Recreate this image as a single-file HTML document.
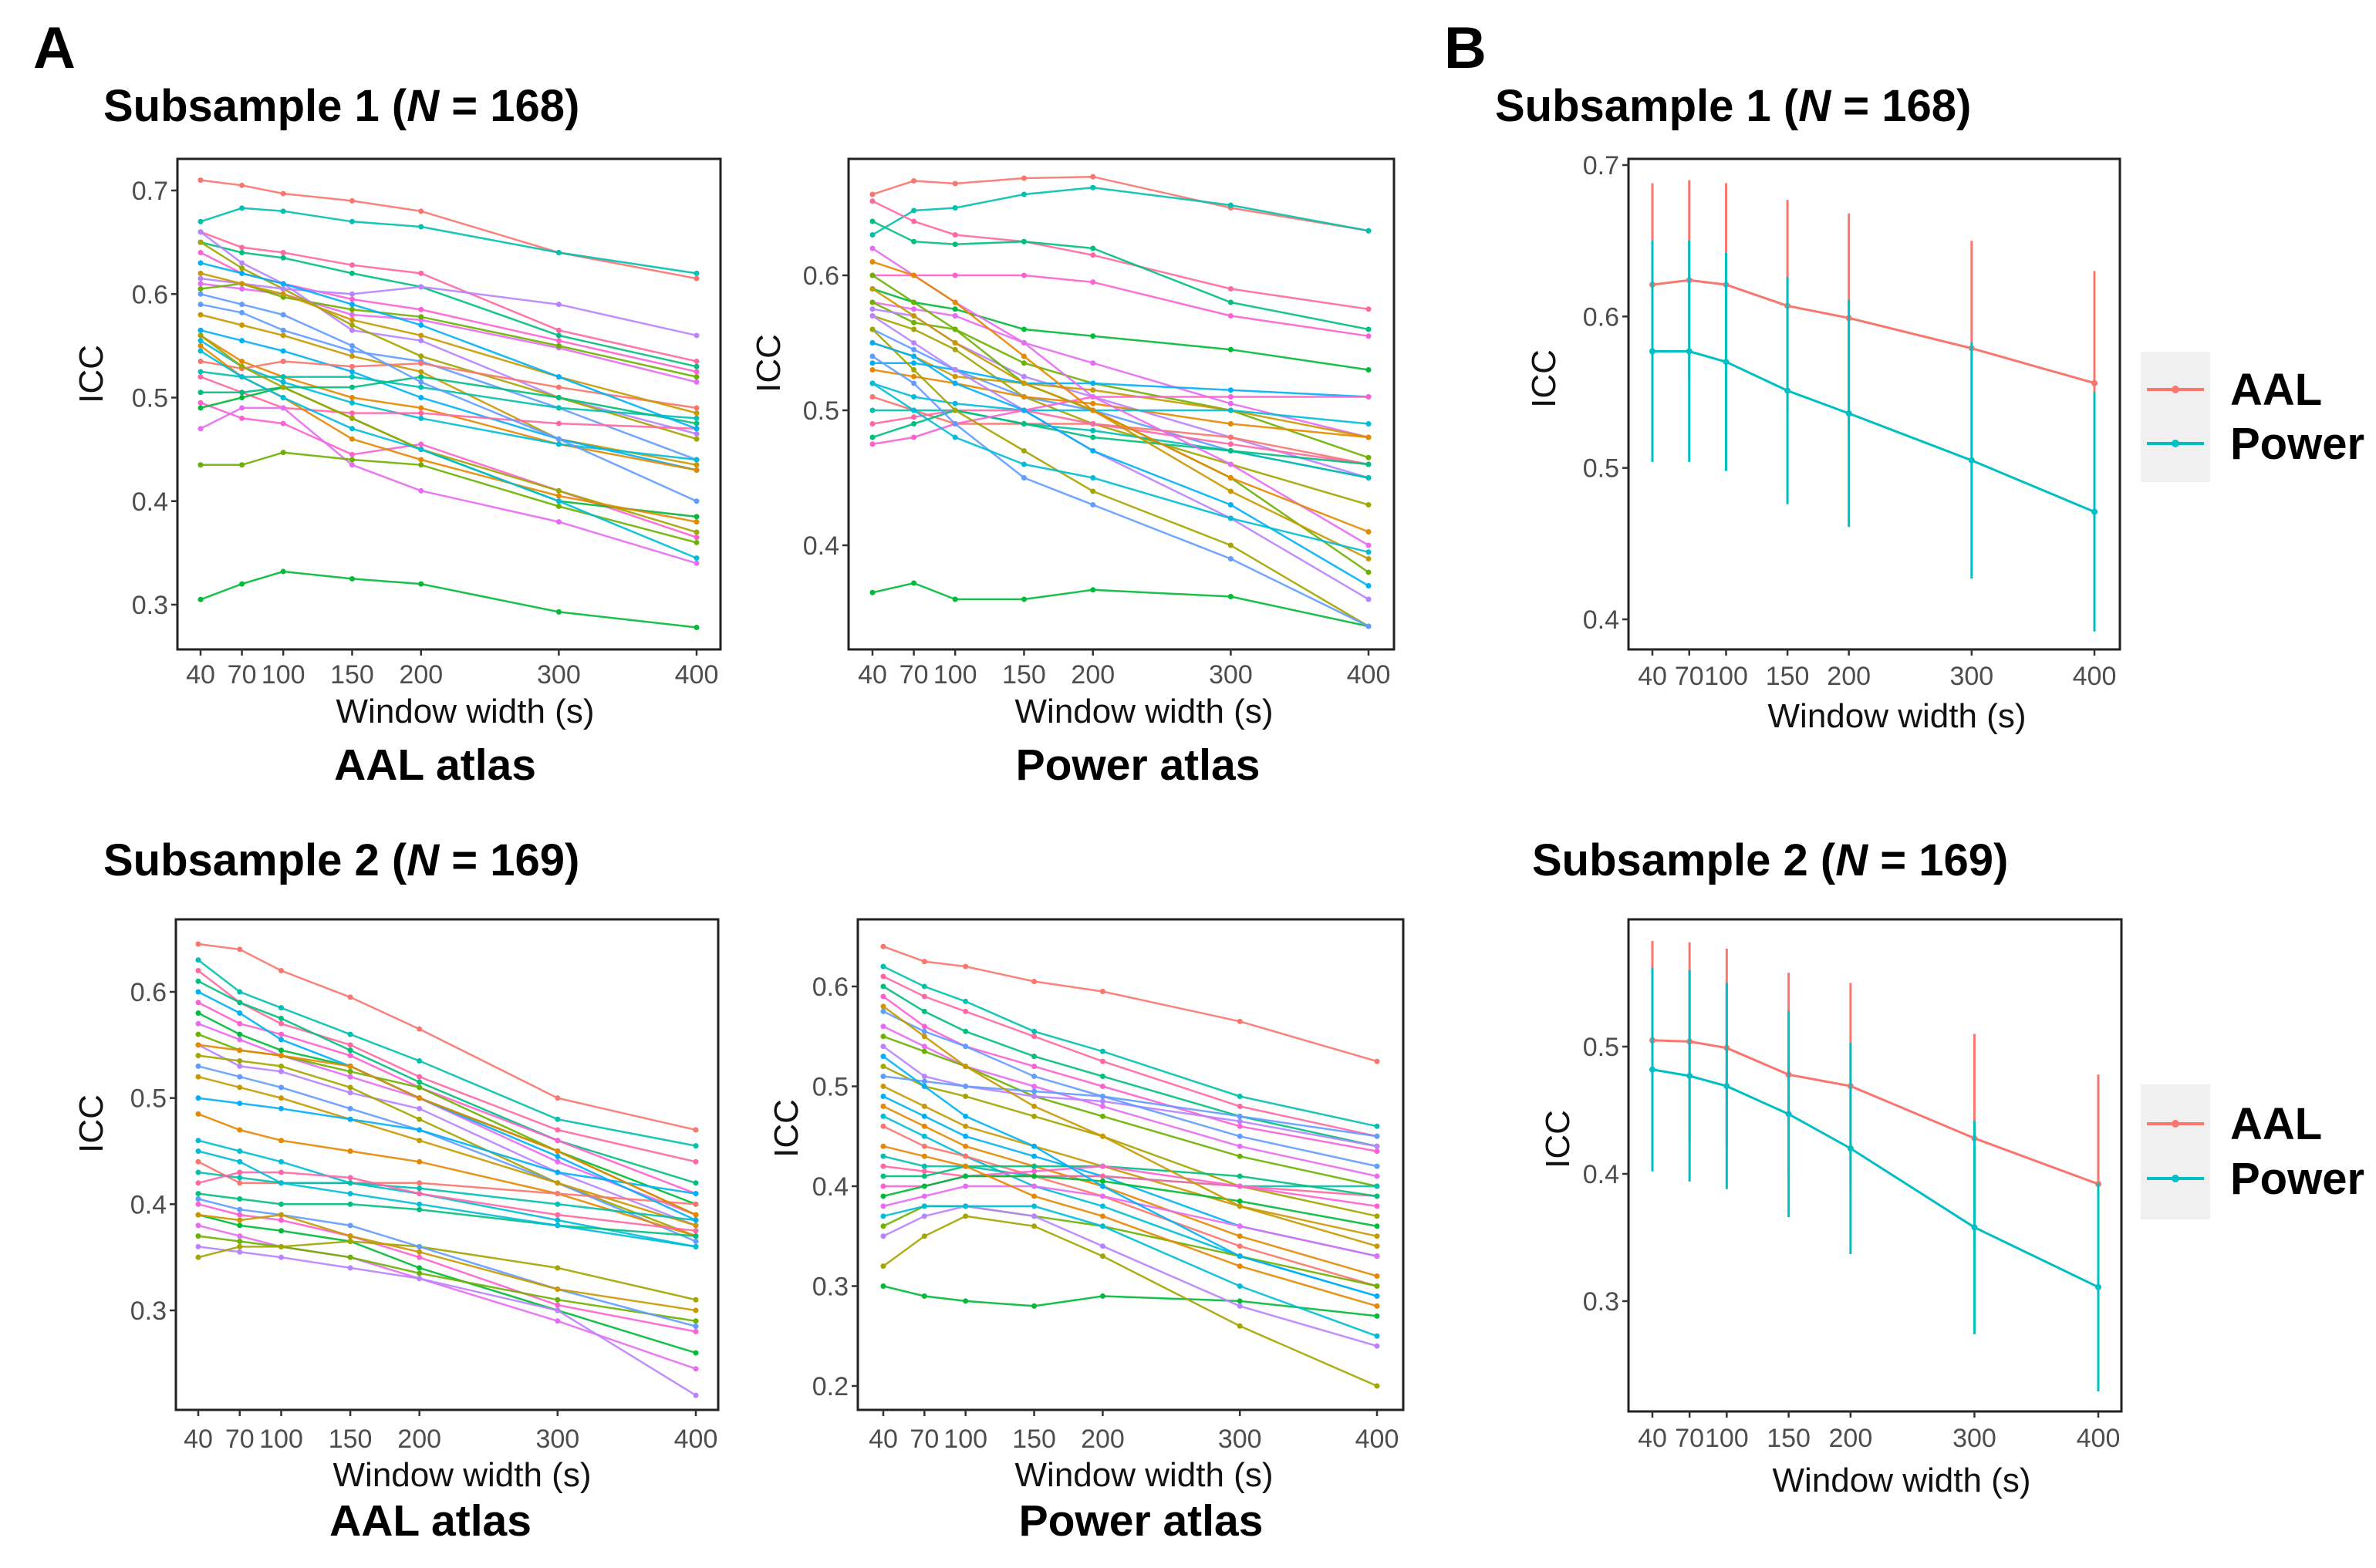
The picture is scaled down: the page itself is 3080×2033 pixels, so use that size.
<!DOCTYPE html>
<html><head><meta charset="utf-8"><style>
body{margin:0;background:#fff;}
svg{display:block;font-family:"Liberation Sans",Arial,sans-serif;}
</style></head><body>
<svg id="fig" width="3080" height="2033" viewBox="0 0 3080 2033" xmlns="http://www.w3.org/2000/svg">
<rect width="3080" height="2033" fill="#fff"/>
<text x="43" y="88" font-size="76" font-weight="bold">A</text>
<text x="1872" y="88" font-size="76" font-weight="bold">B</text>
<text x="134" y="157" font-size="58" font-weight="bold">Subsample 1 (<tspan font-style="italic">N</tspan> = 168)</text>
<text x="134" y="1135" font-size="58" font-weight="bold">Subsample 2 (<tspan font-style="italic">N</tspan> = 169)</text>
<text x="1938" y="157" font-size="58" font-weight="bold">Subsample 1 (<tspan font-style="italic">N</tspan> = 168)</text>
<text x="1986" y="1135" font-size="58" font-weight="bold">Subsample 2 (<tspan font-style="italic">N</tspan> = 169)</text>
<text x="564" y="1011" font-size="57" font-weight="bold" text-anchor="middle">AAL atlas</text>
<text x="1475" y="1011" font-size="57" font-weight="bold" text-anchor="middle">Power atlas</text>
<text x="558" y="1991" font-size="57" font-weight="bold" text-anchor="middle">AAL atlas</text>
<text x="1479" y="1991" font-size="57" font-weight="bold" text-anchor="middle">Power atlas</text>
<g id="plots"></g>
</svg>
<script>
const xCats = [40,70,100,150,200,300,400];
const xTickLabels = ["40","70","100","150","200","300","400"];
const palette = ["#F8766D","#E58700","#C99800","#A3A500","#6BB100","#00BA38","#00BF7D","#00C0AF","#00BCD8","#00B0F6","#619CFF","#B983FF","#E76BF3","#FD61D1","#FF67A4"];

const aalS1 = [
[.71,.705,.697,.69,.68,.64,.615],[.67,.683,.68,.67,.665,.64,.62],[.66,.645,.64,.628,.62,.565,.535],
[.65,.64,.635,.62,.607,.56,.53],[.64,.62,.61,.595,.585,.555,.525],[.305,.32,.332,.325,.32,.293,.278],
[.61,.605,.6,.58,.575,.548,.515],[.605,.61,.597,.585,.578,.55,.52],[.66,.63,.61,.565,.555,.5,.465],
[.65,.625,.605,.57,.54,.5,.46],[.59,.582,.565,.545,.535,.49,.44],[.58,.57,.56,.54,.525,.46,.435],
[.565,.555,.545,.525,.5,.46,.43],[.56,.535,.52,.5,.49,.455,.43],[.555,.53,.515,.495,.48,.455,.44],
[.535,.528,.535,.53,.533,.51,.49],[.525,.52,.52,.52,.51,.49,.48],[.52,.505,.49,.485,.485,.475,.47],
[.505,.505,.51,.51,.52,.5,.475],[.495,.48,.475,.445,.455,.41,.365],[.49,.5,.51,.48,.45,.4,.385],
[.47,.49,.49,.435,.41,.38,.34],[.435,.435,.447,.44,.435,.395,.36],[.615,.61,.605,.6,.607,.59,.56],
[.56,.53,.51,.48,.45,.41,.37],[.6,.59,.58,.55,.515,.46,.4],[.62,.61,.6,.575,.56,.52,.485],
[.63,.62,.61,.59,.57,.52,.47],[.55,.52,.5,.46,.44,.405,.38],[.545,.52,.5,.47,.45,.4,.345]];
const powerS1 = [
[.66,.67,.668,.672,.673,.65,.633],[.63,.648,.65,.66,.665,.652,.633],[.655,.64,.63,.625,.615,.59,.575],
[.64,.625,.623,.625,.62,.58,.56],[.6,.6,.6,.6,.595,.57,.555],[.59,.58,.575,.56,.555,.545,.53],
[.58,.575,.57,.55,.535,.505,.48],[.58,.565,.56,.535,.52,.5,.465],[.575,.57,.55,.525,.51,.48,.45],
[.57,.56,.545,.51,.49,.46,.43],[.56,.545,.53,.51,.5,.47,.45],[.55,.54,.525,.52,.515,.5,.48],
[.535,.535,.53,.52,.52,.515,.51],[.53,.525,.52,.51,.505,.49,.48],[.52,.51,.505,.5,.5,.5,.49],
[.51,.5,.49,.49,.49,.48,.46],[.5,.5,.5,.49,.485,.47,.45],[.49,.495,.5,.5,.49,.475,.46],
[.48,.49,.5,.49,.48,.47,.46],[.475,.48,.49,.5,.51,.51,.51],[.365,.372,.36,.36,.367,.362,.34],
[.62,.6,.58,.55,.51,.46,.4],[.6,.58,.56,.52,.5,.45,.38],[.57,.55,.53,.5,.47,.42,.36],
[.56,.53,.5,.47,.44,.4,.34],[.54,.52,.49,.45,.43,.39,.34],[.59,.57,.55,.52,.5,.44,.39],
[.55,.54,.52,.5,.47,.43,.37],[.61,.6,.58,.54,.5,.45,.41],[.52,.5,.48,.46,.45,.42,.395]];
const aalS2 = [
[.645,.64,.62,.595,.565,.5,.47],[.63,.6,.585,.56,.535,.48,.455],[.62,.59,.57,.55,.52,.47,.44],
[.61,.59,.575,.545,.515,.46,.42],[.59,.57,.56,.54,.51,.46,.41],[.58,.56,.545,.53,.5,.45,.4],
[.57,.555,.54,.52,.5,.44,.39],[.56,.545,.54,.525,.51,.45,.39],[.55,.53,.525,.505,.49,.43,.38],
[.54,.535,.53,.51,.48,.42,.37],[.53,.52,.51,.49,.47,.42,.365],[.52,.51,.5,.48,.46,.42,.38],
[.5,.495,.49,.48,.47,.43,.41],[.485,.47,.46,.45,.44,.41,.37],[.46,.45,.44,.42,.41,.385,.36],
[.44,.42,.42,.42,.42,.41,.4],[.43,.425,.42,.42,.415,.4,.385],[.42,.43,.43,.425,.41,.39,.375],
[.41,.405,.4,.4,.395,.38,.37],[.4,.39,.385,.37,.35,.305,.28],[.39,.38,.375,.365,.34,.3,.26],
[.38,.37,.36,.35,.33,.29,.245],[.37,.365,.36,.35,.335,.31,.29],[.36,.355,.35,.34,.33,.3,.22],
[.35,.36,.36,.365,.36,.34,.31],[.405,.395,.39,.38,.36,.32,.285],[.39,.385,.39,.37,.355,.32,.3],
[.6,.58,.555,.53,.5,.445,.385],[.55,.545,.54,.53,.5,.45,.39],[.45,.44,.42,.41,.4,.38,.36]];
const powerS2 = [
[.64,.625,.62,.605,.595,.565,.525],[.62,.6,.585,.555,.535,.49,.46],[.61,.59,.575,.55,.525,.48,.45],
[.6,.575,.555,.53,.51,.47,.44],[.59,.56,.54,.52,.5,.46,.435],[.3,.29,.285,.28,.29,.285,.27],
[.56,.54,.52,.5,.48,.44,.41],[.55,.535,.52,.49,.47,.43,.4],[.54,.51,.5,.49,.485,.465,.44],
[.52,.5,.49,.47,.45,.4,.37],[.51,.505,.5,.495,.49,.47,.45],[.5,.48,.46,.44,.42,.38,.35],
[.49,.47,.45,.43,.41,.36,.33],[.48,.46,.44,.42,.4,.35,.31],[.47,.45,.43,.4,.38,.33,.29],
[.46,.44,.43,.41,.39,.34,.3],[.43,.42,.42,.41,.41,.4,.4],[.42,.415,.41,.41,.41,.4,.39],
[.41,.41,.42,.42,.42,.41,.39],[.4,.4,.41,.415,.42,.4,.38],[.39,.4,.41,.41,.405,.385,.36],
[.38,.39,.4,.4,.39,.36,.33],[.36,.38,.38,.37,.36,.33,.3],[.35,.37,.38,.37,.34,.28,.24],
[.32,.35,.37,.36,.33,.26,.2],[.575,.555,.54,.51,.49,.45,.42],[.58,.55,.52,.48,.45,.38,.34],
[.53,.5,.47,.44,.4,.33,.29],[.44,.43,.42,.39,.37,.32,.28],[.37,.38,.38,.38,.36,.3,.25]];

const bS1AalMean = [.621,.624,.621,.607,.599,.579,.556];
const bS1AalSd = [.067,.066,.067,.07,.069,.071,.074];
const bS1PowMean = [.577,.577,.57,.551,.536,.505,.471];
const bS1PowSd = [.073,.073,.072,.075,.075,.078,.079];
const bS2AalMean = [.505,.504,.499,.478,.469,.428,.392];
const bS2AalSd = [.078,.078,.078,.08,.081,.082,.086];
const bS2PowMean = [.482,.477,.469,.447,.42,.358,.311];
const bS2PowSd = [.08,.083,.081,.081,.083,.084,.082];

const yTicksA1 = [0.3,0.4,0.5,0.6,0.7];
const yTicksA2 = [0.4,0.5,0.6];
const yTicksA3 = [0.3,0.4,0.5,0.6];
const yTicksA4 = [0.2,0.3,0.4,0.5,0.6];
const yTicksB1 = [0.4,0.5,0.6,0.7];
const yTicksB2 = [0.3,0.4,0.5];

const NS = "http://www.w3.org/2000/svg";
const root = document.getElementById('plots');
function mk(tag, attrs, parent){
  const e = document.createElementNS(NS, tag);
  for (const k in attrs) e.setAttribute(k, attrs[k]);
  parent.appendChild(e); return e;
}
function xScale(cfg){ return v => cfg.x40 + (v-40)/(400-40)*(cfg.x400-cfg.x40); }
function yScale(cfg){ return v => cfg.yA + (v-cfg.vA)/(cfg.vB-cfg.vA)*(cfg.yB-cfg.yA); }

function axes(cfg, name, yTicks){
  const g = mk('g', {}, root);
  
  
  const xs = xScale(cfg), ys = yScale(cfg);
  const fr = mk('rect', {x:cfg.l, y:cfg.t, width:cfg.r-cfg.l, height:cfg.b-cfg.t, fill:'#fff', stroke:'#222', 'stroke-width':3}, g);
  
  
  yTicks.forEach(v => {
    const y = ys(v);
    mk('line', {x1:cfg.l-8, x2:cfg.l, y1:y, y2:y, stroke:'#333', 'stroke-width':2.5}, g);
    const t = mk('text', {x:cfg.l-12, y:y+12, 'font-size':34, fill:'#4d4d4d', 'text-anchor':'end'}, g);
    t.textContent = v.toFixed(1);
    
    
  });
  xCats.forEach((v,i) => {
    const x = xs(v);
    mk('line', {x1:x, x2:x, y1:cfg.b, y2:cfg.b+8, stroke:'#333', 'stroke-width':2.5}, g);
    const t = mk('text', {x:x, y:cfg.tickY, 'font-size':34, fill:'#4d4d4d', 'text-anchor':'middle'}, g);
    t.textContent = xTickLabels[i];
    
    
  });
  const xt = mk('text', {x:cfg.xtX, y:cfg.xtY, 'font-size':44, fill:'#111', 'text-anchor':'middle'}, g);
  xt.textContent = 'Window width (s)';
  
  
  const yt = mk('text', {x:0, y:0, 'font-size':44, fill:'#111', 'text-anchor':'middle', transform:`translate(${cfg.ytX+15},${cfg.ytY}) rotate(-90)`}, g);
  yt.textContent = 'ICC';
  
  
  return {g, xs, ys};
}

function spaghetti(cfg, name, data, yTicks){
  const {g, xs, ys} = axes(cfg, name, yTicks);
  data.forEach((s, i) => {
    const col = palette[(i*7) % palette.length];
    const pts = s.map((v,j) => xs(xCats[j]).toFixed(1)+','+ys(v).toFixed(1)).join(' ');
    const pl = mk('polyline', {points:pts, fill:'none', stroke:col, 'stroke-width':2.5, 'stroke-opacity':0.9}, g);
    
    
    s.forEach((v,j) => {
      const c = mk('circle', {cx:xs(xCats[j]), cy:ys(v), r:3.5, fill:col}, g);
      
      
    });
  });
}

function meanPlot(cfg, name, yTicks, aM, aS, pM, pS, leg){
  const {g, xs, ys} = axes(cfg, name, yTicks);
  const series = [[aM,aS,'#F8766D','aal'],[pM,pS,'#00BFC4','power']];
  series.forEach(([m,s,col,nm]) => {
    m.forEach((v,j) => {
      const eb = mk('line', {x1:xs(xCats[j]), x2:xs(xCats[j]), y1:ys(v+s[j]), y2:ys(v-s[j]), stroke:col, 'stroke-width':3}, g);
      
      
    });
    const pts = m.map((v,j) => xs(xCats[j]).toFixed(1)+','+ys(v).toFixed(1)).join(' ');
    const pl = mk('polyline', {points:pts, fill:'none', stroke:col, 'stroke-width':3}, g);
    
    
    m.forEach((v,j) => {
      const c = mk('circle', {cx:xs(xCats[j]), cy:ys(v), r:4, fill:col}, g);
      
      
    });
  });
  const lg = mk('g', {}, root);
  
  
  mk('rect', {x:leg.x, y:leg.y, width:90, height:leg.h, fill:'#f0f0f0'}, lg);
  [['AAL','#F8766D',leg.y1],['Power','#00BFC4',leg.y2]].forEach(([lab,col,yy]) => {
    const e = mk('g', {}, lg);
    
    
    mk('line', {x1:leg.x+8, x2:leg.x+82, y1:yy, y2:yy, stroke:col, 'stroke-width':4}, e);
    mk('circle', {cx:leg.x+45, cy:yy, r:5, fill:col}, e);
    const t = mk('text', {x:leg.x+116, y:yy+20, 'font-size':58, 'font-weight':'bold', fill:'#000'}, e);
    t.textContent = lab;
  });
}

spaghetti({l:230,r:934,t:206,b:842,x40:260,x400:903,vA:0.7,yA:247,vB:0.3,yB:784,tickY:886,xtX:603,xtY:937,ytX:118,ytY:485}, 'chart-aal-subsample-1', aalS1, yTicksA1);
spaghetti({l:1100,r:1807,t:206,b:842,x40:1131,x400:1774,vA:0.6,yA:357,vB:0.4,yB:707,tickY:886,xtX:1483,xtY:937,ytX:996,ytY:471}, 'chart-power-subsample-1', powerS1, yTicksA2);
spaghetti({l:228,r:931,t:1192,b:1828,x40:257,x400:902,vA:0.6,yA:1286,vB:0.3,yB:1699,tickY:1877,xtX:599,xtY:1927,ytX:118,ytY:1457}, 'chart-aal-subsample-2', aalS2, yTicksA3);
spaghetti({l:1112,r:1819,t:1192,b:1828,x40:1145,x400:1785,vA:0.6,yA:1279,vB:0.2,yB:1797,tickY:1877,xtX:1483,xtY:1927,ytX:1019,ytY:1463}, 'chart-power-subsample-2', powerS2, yTicksA4);
meanPlot({l:2111,r:2748,t:206,b:842,x40:2142,x400:2715,vA:0.7,yA:214,vB:0.4,yB:803,tickY:888,xtX:2459,xtY:943,ytX:2001,ytY:491}, 'chart-mean-subsample-1', yTicksB1, bS1AalMean, bS1AalSd, bS1PowMean, bS1PowSd, {x:2775,y:456,h:169,y1:505,y2:575});
meanPlot({l:2111,r:2750,t:1192,b:1830,x40:2142,x400:2720,vA:0.5,yA:1357,vB:0.3,yB:1687,tickY:1876,xtX:2465,xtY:1934,ytX:2019,ytY:1477}, 'chart-mean-subsample-2', yTicksB2, bS2AalMean, bS2AalSd, bS2PowMean, bS2PowSd, {x:2775,y:1406,h:175,y1:1457,y2:1528});
</script>
</body></html>
